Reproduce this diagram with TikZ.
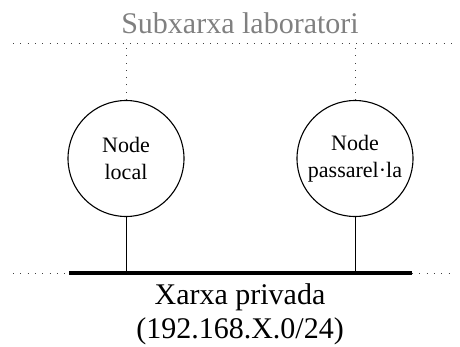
\documentclass[tikz,border=0pt]{standalone}
\usepackage{fontspec}
\setmainfont{Liberation Serif}
\usetikzlibrary{positioning}

\tikzset{
  hostnode/.style={circle,draw,line width=1.1pt,minimum size=116pt,inner sep=0pt,
    align=center,font=\fontsize{22}{27}\selectfont},
  netdots/.style={line width=0.9pt,dash pattern=on 0.9pt off 6.4pt,black!75},
  netlabel/.style={inner sep=0pt,align=center,font=\fontsize{30}{34}\selectfont},
}

\begin{document}
\begin{tikzpicture}[x=1pt,y=1pt]
  \useasboundingbox (0,0) rectangle (460,346);
  % subxarxa del laboratori
  \coordinate (labL) at (13,303);
  \coordinate (labR) at (455,303);
  \draw[netdots] (labL) -- (labR);
  \node[netlabel,anchor=base,text=black!50] (lab) at (240,312) {Subxarxa laboratori};
  % els dos nodes
  \node[hostnode] (local) at (126,187.5) {Node\\local};
  \node[hostnode] (gw) at (355,187.5) {Node\\passarel·la};
  % xarxa privada
  \coordinate (privL) at (13,73);
  \coordinate (busL) at (69,73);
  \coordinate (busR) at (412,73);
  \coordinate (privR) at (455,73);
  \draw[netdots] (privL) -- (busL);
  \draw[netdots] (busR) -- (privR);
  \draw[line width=3.2pt] (busL) -- (busR);
  \node[netlabel,anchor=north] (priv) at (240,63) {Xarxa privada\\(192.168.X.0/24)};
  % connexions
  \foreach \n in {local,gw}
  {
    \draw[netdots] (\n.north) -- (\n.north |- labL);
    \draw[line width=1pt] (\n.south) -- (\n.south |- busL);
  }
\end{tikzpicture}
\end{document}
